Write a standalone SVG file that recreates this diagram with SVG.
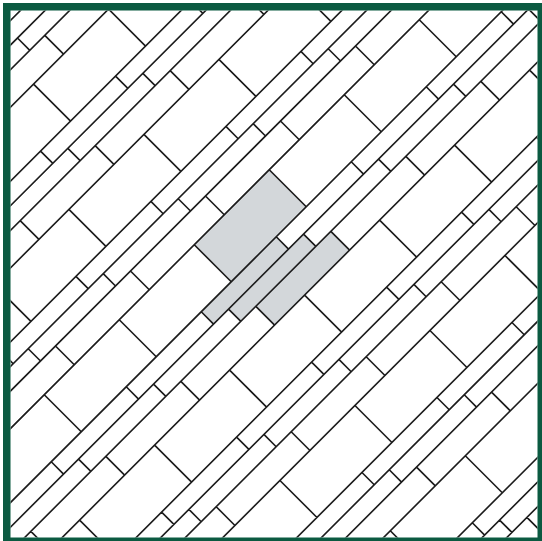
<svg xmlns="http://www.w3.org/2000/svg" width="542" height="541" viewBox="0 0 542 541">
<style>
.ln{fill:none;stroke:#1c1c1c;stroke-width:2.3}
.hl{fill:#d3d7da}
.frame{fill:none;stroke:#0b5a41;stroke-width:7.5}
</style>
<defs>
<clipPath id="inner"><rect x="10.5" y="10.5" width="527" height="527"/></clipPath>
<path id="blk" class="ln" d="M-700 0H700M-700 74H700M-700 98.6H700M-700 123.2H700
M-500.5 0V74M-350.5 0V74M-200.5 0V74M-50.5 0V74M99.5 0V74M249.5 0V74M399.5 0V74M549.5 0V74M699.5 0V74
M-560.5 74V98.6M-410.5 74V98.6M-260.5 74V98.6M-110.5 74V98.6M39.5 74V98.6M189.5 74V98.6M339.5 74V98.6M489.5 74V98.6M639.5 74V98.6
M-530.5 98.6V123.2M-380.5 98.6V123.2M-230.5 98.6V123.2M-80.5 98.6V123.2M69.5 98.6V123.2M219.5 98.6V123.2M369.5 98.6V123.2M519.5 98.6V123.2M669.5 98.6V123.2
M-500.5 123.2V160.7M-350.5 123.2V160.7M-200.5 123.2V160.7M-50.5 123.2V160.7M99.5 123.2V160.7M249.5 123.2V160.7M399.5 123.2V160.7M549.5 123.2V160.7M699.5 123.2V160.7"/>
</defs>
<rect width="542" height="541" fill="#ffffff"/>
<g id="tiling" clip-path="url(#inner)">
<g transform="matrix(0.5,-0.5,0.5,0.5,0,0)">
<g id="highlight" class="hl">
<rect x="-50.5" y="439" width="150" height="74"/>
<rect x="-110.5" y="513" width="150" height="24.6"/>
<rect x="-80.5" y="537.6" width="150" height="24.6"/>
<rect x="-50.5" y="562.2" width="150" height="37.5"/>
</g>
<g id="tiles">
<use href="#blk" x="-90" y="-43.1"/>
<use href="#blk" x="0" y="117.6"/>
<use href="#blk" x="-90" y="278.3"/>
<use href="#blk" x="0" y="439"/>
<use href="#blk" x="-90" y="599.7"/>
<use href="#blk" x="0" y="760.4"/>
<use href="#blk" x="-90" y="921.1"/>
</g>
</g>
</g>
<rect id="frame" class="frame" x="6.75" y="6.75" width="534.5" height="534.5"/>
</svg>
